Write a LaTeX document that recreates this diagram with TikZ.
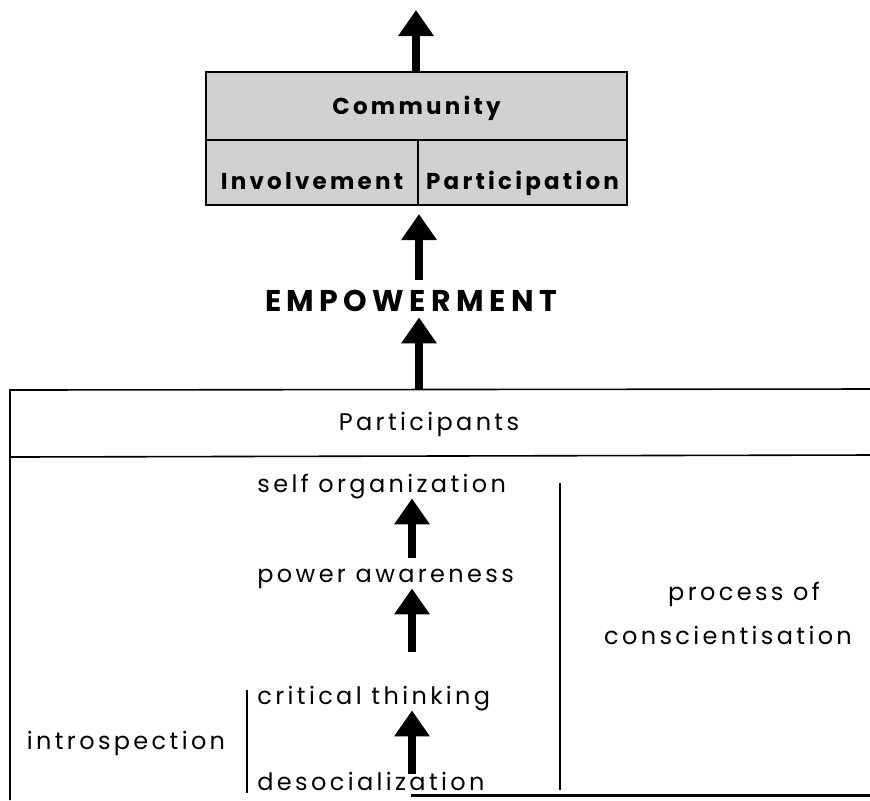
\documentclass[tikz,border=0pt]{standalone}
\usepackage{fontspec}
\setmainfont{Poppins}
\newfontfamily\diagfont[LetterSpace=14]{Poppins}
\newfontfamily\empfont[LetterSpace=18]{Poppins}
\usetikzlibrary{arrows.meta,positioning}

\tikzset{
  cell/.style={draw, line width=1pt, fill=black!18, inner sep=0pt,
    font=\diagfont\bfseries\fontsize{11.5}{13}\selectfont},
  txt/.style={inner sep=0pt, text height=8pt, text depth=3pt,
    font=\diagfont\fontsize{12}{14}\selectfont},
  bigarrow/.style={line width=3.6pt, -{Triangle[width=17pt,length=13pt]}},
}

\begin{document}
\begin{tikzpicture}[x=0.5pt,y=-0.5pt]
  \useasboundingbox (0,0) rectangle (870,800);

  % Community box
  \node[cell, minimum width=210.5pt, minimum height=34pt, text height=8.5pt, text depth=0.5pt] (comm) at (416.5,106) {Community};
  \node[cell, minimum width=106pt, minimum height=32.5pt, text height=17pt, text depth=0pt] (inv) at (312,172.5) {Involvement};
  \node[cell, minimum width=104.5pt, minimum height=32.5pt, text height=17pt, text depth=0pt] (par) at (522.5,172.5) {Participation};

  \coordinate (top) at (416,10);
  \draw[bigarrow] (comm.north -| top) -- (top);

  % Empowerment
  \node[inner sep=0pt, text height=11pt, text depth=0pt, anchor=base,
    font=\empfont\bfseries\fontsize{15}{18}\selectfont] (emp) at (411,311) {EMPOWERMENT};
  \draw[bigarrow, shorten <=4.5pt, shorten >=4pt] (emp.north -| inv.south east) -- (inv.south east);

  % Participants box
  \draw[line width=0.8pt] (870,389) -- (10,390) -- (10,800);
  \draw[line width=0.8pt] (10,457) -- (870,455);
  \draw[line width=1.5pt] (411,795) -- (870,795);
  \coordinate (boxtop) at (419,390);
  \node[txt, anchor=base] (partic) at (429,430) {Participants};
  \draw[bigarrow, shorten >=3pt] (boxtop) -- (emp.south -| boxtop);

  % steps
  \node[txt, anchor=base west] (so) at (257,492) {self organization};
  \node[txt, anchor=base west] (pa) at (257,582) {power awareness};
  \node[txt, anchor=base west] (ct) at (257,704) {critical thinking};
  \node[txt, anchor=base west] (de) at (257,790) {desocialization};
  \node[txt, anchor=base] (intro) at (126,749) {introspection};
  \node[txt, anchor=base] (proc) at (744,600) {process of};
  \node[txt, anchor=base] (consc) at (728,644) {conscientisation};

  \coordinate (ax) at (412,0);
  \draw[bigarrow, shorten <=4pt] (pa.north -| ax) -- (so.south -| ax);
  \draw[bigarrow, shorten <=18pt] (ct.north -| ax) -- (pa.south -| ax);
  \draw[bigarrow] (de.north -| ax) -- (ct.south -| ax);

  \draw[line width=0.6pt] (560,483) -- (560,790);
  \draw[line width=0.6pt] (247,690) -- (247,793);
\end{tikzpicture}
\end{document}
